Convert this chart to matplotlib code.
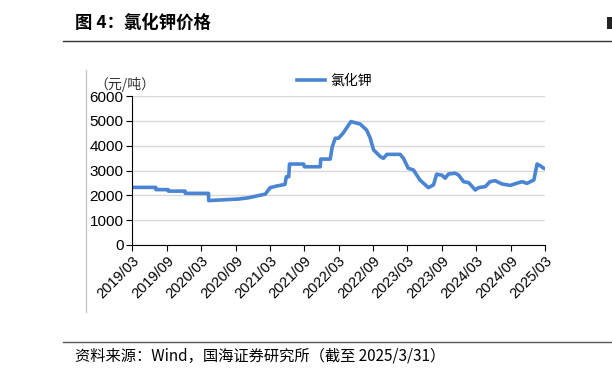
import pandas as pd
import matplotlib.pyplot as plt
from matplotlib.lines import Line2D
from matplotlib.patches import Rectangle

plt.rcParams['font.family'] = ['Liberation Sans', 'Noto Sans CJK SC', 'DejaVu Sans']

# potassium chloride price, yuan/ton
dates = ['2019-03-01', '2019-07-05', '2019-07-06', '2019-09-09', '2019-09-10',
         '2019-12-08', '2019-12-09', '2020-04-10', '2020-04-11', '2020-09-15',
         '2020-11-07', '2021-02-06', '2021-03-03', '2021-04-07', '2021-05-21',
         '2021-05-28', '2021-06-10', '2021-06-14', '2021-08-28', '2021-09-01',
         '2021-11-24', '2021-11-27', '2022-01-16', '2022-01-27', '2022-02-12',
         '2022-03-01', '2022-03-25', '2022-05-06', '2022-06-24', '2022-07-28',
         '2022-08-16', '2022-09-03', '2022-10-09', '2022-10-25', '2022-11-13',
         '2023-01-22', '2023-02-09', '2023-03-06', '2023-04-03', '2023-05-07',
         '2023-06-21', '2023-07-18', '2023-08-04', '2023-09-01', '2023-09-18',
         '2023-10-06', '2023-11-10', '2023-11-28', '2023-12-25', '2024-01-21',
         '2024-02-09', '2024-02-25', '2024-03-13', '2024-04-18', '2024-05-13',
         '2024-06-09', '2024-07-15', '2024-08-28', '2024-10-12', '2024-11-01',
         '2024-11-25', '2025-01-01', '2025-01-18', '2025-02-06', '2025-02-22',
         '2025-03-01']
prices = [2320, 2320, 2230, 2230, 2170,
          2170, 2080, 2080, 1790, 1850,
          1900, 2050, 2310, 2375, 2440,
          2750, 2750, 3260, 3260, 3150,
          3150, 3460, 3460, 3960, 4300,
          4300, 4500, 4970, 4870, 4630,
          4310, 3830, 3560, 3490, 3650,
          3650, 3490, 3090, 3020, 2620,
          2310, 2420, 2850, 2810, 2690,
          2860, 2890, 2820, 2550, 2510,
          2350, 2215, 2310, 2350, 2550,
          2590, 2460, 2400, 2510, 2550,
          2480, 2620, 3260, 3180, 3090,
          3080]
yticks = [0, 1000, 2000, 3000, 4000, 5000, 6000]
xtick_labels = ['2019/03', '2019/09', '2020/03', '2020/09', '2021/03', '2021/09', '2022/03',
                '2022/09', '2023/03', '2023/09', '2024/03', '2024/09', '2025/03']

blue = '#4a85d4'

fig = plt.figure(figsize=(6.12, 3.79), dpi=100)
ax = fig.add_axes([132/612, 1-245/379, 413/612, 149/379])

x = pd.to_datetime(dates)
ax.plot(x, prices, color=blue, lw=2.6, solid_joinstyle='round')

tick_dates = pd.date_range('2019-03-01', '2025-03-01', freq='6MS')
ax.set_xlim(tick_dates[0], tick_dates[-1])
ax.set_xticks(tick_dates)
ax.set_xticklabels(xtick_labels, rotation=45, ha='right', rotation_mode='anchor', fontsize=10.5)
ax.set_ylim(0, 6000)
ax.set_yticks(yticks)
ax.tick_params(axis='y', labelsize=11, length=4, direction='out', pad=2)
ax.tick_params(axis='x', length=4, direction='out', pad=2)
ax.grid(axis='y', color='#d9d9d9', lw=1)
ax.set_axisbelow(True)
for s in ['top', 'right']:
    ax.spines[s].set_visible(False)

ax.text(-0.09, 1.03, '（元/吨）', transform=ax.transAxes, fontsize=10,
        family=['Noto Sans CJK SC'], color='#333333', va='bottom')

ax.legend([Line2D([], [], color=blue, lw=2.6)], ['氯化钾'], loc='lower center',
          bbox_to_anchor=(0.49, 0.97), frameon=False,
          prop={'family': 'Noto Sans CJK SC', 'size': 10}, handlelength=2.0,
          handletextpad=0.4)

# page furniture
fig.text(75/612, 1-23/379, '图 4：氯化钾价格', fontsize=12.5, fontweight='bold',
         family=['Noto Sans CJK SC'], va='center')
fig.add_artist(Rectangle((607/612, 1-29/379), 5/612, 12/379, color='#222222', lw=0))
fig.add_artist(Line2D([63/612, 1], [1-40.5/379]*2, color='#333333', lw=1))
fig.add_artist(Line2D([63/612, 1], [1-342/379]*2, color='#555555', lw=1))
fig.add_artist(Line2D([85.7/612]*2, [1-70/379, 1-312/379], color='#c8c8c8', lw=1))
fig.text(75/612, 1-356/379, '资料来源：Wind，国海证券研究所（截至 2025/3/31）', fontsize=11,
         family=['Noto Sans CJK SC'], va='center')

fig.savefig('out.png', dpi=100)
